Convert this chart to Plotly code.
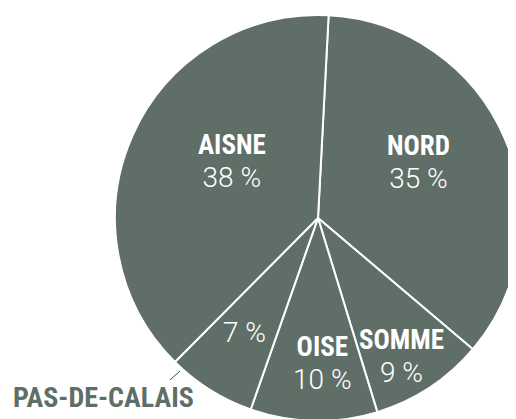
import plotly.graph_objects as go

# ---- data ----
labels = ["NORD", "SOMME", "OISE", "PAS-DE-CALAIS", "AISNE"]
values = [35, 9, 10, 7, 38]
name_inside = [True, True, True, False, True]

# ---- style / layout ----
SLICE = "#5f6e66"
W, H = 516, 419
OFF = 8  # page body margin of the rendered html
NAME_STYLE = "font-family:Roboto Condensed;font-weight:bold;font-size:27px"
VALUE_STYLE = "font-family:Roboto;font-weight:300;font-size:28px"
LINE_GAP = 33  # baseline-to-baseline distance of the two label lines

# label block positions in page pixels
label_pos = {
    "NORD": (418.5, 148),
    "SOMME": (401, 342),
    "OISE": (322, 349),
    "AISNE": (232, 147),
}
outside_name_pos = (103, 397)      # PAS-DE-CALAIS name, outside the pie
outside_value_pos = (244, 332)     # its value, inside the slice
leader = ((170, 380), (180, 371))

# pie circle in page pixels
CX, CY, R = 318, 218, 203


def px(x):
    return (x - OFF) / W


def py(y):
    return 1 - (y - OFF) / H


fig = go.Figure(
    go.Pie(
        labels=labels,
        values=values,
        sort=False,
        direction="clockwise",
        rotation=3,
        marker=dict(colors=[SLICE] * len(values), line=dict(color="white", width=2)),
        textinfo="none",
        domain=dict(x=[px(CX - R), px(CX + R)], y=[py(CY + R), py(CY - R)]),
        hoverinfo="skip",
        showlegend=False,
    )
)

for lab, val, inside in zip(labels, values, name_inside):
    if inside:
        x, y = label_pos[lab]
        fig.add_annotation(
            text=f'<span style="{NAME_STYLE}">{lab}</span><br>'
                 f'<span style="{VALUE_STYLE}">{val} %</span>',
            x=px(x), y=py(y + 14.5), xref="paper", yref="paper",
            showarrow=False, xanchor="center", yanchor="middle", align="center",
            font=dict(size=LINE_GAP / 1.3, color="white"),
        )
    else:
        nx, ny = outside_name_pos
        vx, vy = outside_value_pos
        fig.add_annotation(
            text=f'<span style="{NAME_STYLE};font-size:28px">{lab}</span>',
            x=px(nx), y=py(ny), xref="paper", yref="paper",
            showarrow=False, xanchor="center", yanchor="middle",
            font=dict(size=28, color=SLICE),
        )
        fig.add_annotation(
            text=f'<span style="{VALUE_STYLE}">{val} %</span>',
            x=px(vx), y=py(vy), xref="paper", yref="paper",
            showarrow=False, xanchor="center", yanchor="middle",
            font=dict(size=28, color="white"),
        )
        (x0, y0), (x1, y1) = leader
        fig.add_shape(type="line", xref="paper", yref="paper",
                      x0=px(x0), y0=py(y0), x1=px(x1), y1=py(y1),
                      line=dict(color="#3d4843", width=1))

fig.update_layout(
    width=W, height=H,
    margin=dict(l=0, r=0, t=0, b=0),
    paper_bgcolor="white", plot_bgcolor="white",
)

fig.write_html("out.html")
